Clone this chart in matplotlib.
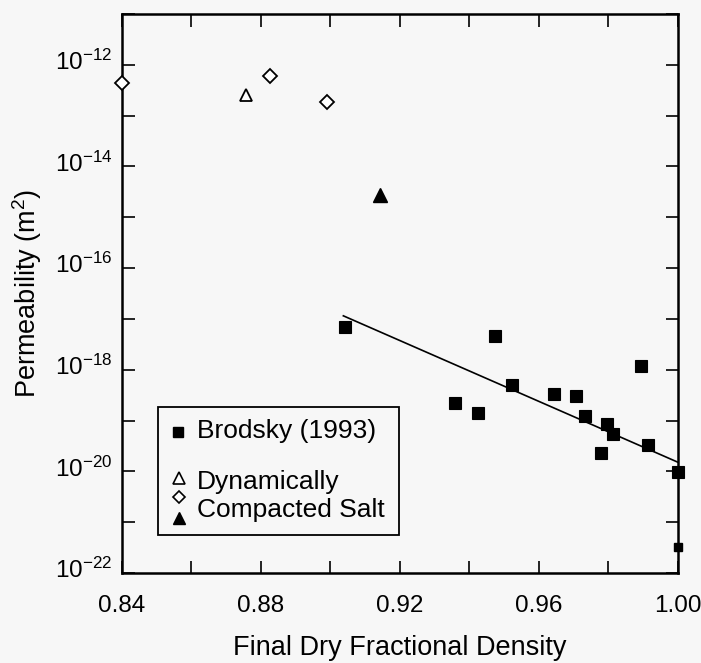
import matplotlib
matplotlib.use("Agg")
import matplotlib.pyplot as plt
from matplotlib.ticker import FixedLocator, FuncFormatter
from matplotlib.patches import Rectangle
import matplotlib.transforms as mtransforms
import numpy as np

plt.rcParams['font.family'] = ['Liberation Sans', 'DejaVu Sans']
plt.rcParams['mathtext.fontset'] = 'custom'
plt.rcParams['mathtext.rm'] = 'Liberation Sans'
plt.rcParams['mathtext.it'] = 'Liberation Sans'
plt.rcParams['mathtext.bf'] = 'Liberation Sans'

# --- data ---
brodsky_density = [0.9042, 0.9358, 0.9424, 0.9473, 0.9523, 0.9643, 0.9707,
                   0.9732, 0.9795, 0.9812, 0.9778, 0.9894, 0.9913, 1.0000]
brodsky_perm = [7.0e-18, 2.25e-19, 1.39e-19, 4.6e-18, 4.9e-19, 3.3e-19, 3.05e-19,
                1.25e-19, 8.5e-20, 5.4e-20, 2.3e-20, 1.17e-18, 3.3e-20, 9.6e-21]
brodsky_small_density = [1.0000]
brodsky_small_perm = [3.2e-22]

dyn_tri_open_density = [0.8756]
dyn_tri_open_perm = [2.5e-13]
dyn_diamond_density = [0.8400, 0.8826, 0.8990]
dyn_diamond_perm = [4.4e-13, 6.1e-13, 1.87e-13]
dyn_tri_filled_density = [0.9142]
dyn_tri_filled_perm = [2.7e-15]

fit_density = [0.9037, 1.0000]
fit_perm = [1.15e-17, 1.51e-20]

x_ticks = [0.84, 0.86, 0.88, 0.90, 0.92, 0.94, 0.96, 0.98, 1.00]
x_labeled = {0.84: "0.84", 0.88: "0.88", 0.92: "0.92", 0.96: "0.96", 1.00: "1.00"}
y_exponents = list(range(-22, -10))
y_labeled = [-22, -20, -18, -16, -14, -12]

legend_labels = ["Brodsky (1993)", "Dynamically", "Compacted Salt"]

bg = '#f7f7f7'
fig = plt.figure(figsize=(7.01, 6.63), dpi=100, facecolor=bg)
ax = fig.add_axes([122/701, 90/663, 556/701, 559/663], facecolor=bg)

ax.set_yscale('log')
ax.set_xlim(0.84, 1.00)
ax.set_ylim(1e-22, 1e-11)

ax.plot(fit_density, fit_perm, color='black', lw=1.2, zorder=2)
ax.plot(brodsky_density, brodsky_perm, ls='none', marker='s', ms=8.7,
        mfc='black', mec='black', mew=0.8, clip_on=False, zorder=3)
ax.plot(brodsky_small_density, brodsky_small_perm, ls='none', marker='s', ms=5.5,
        mfc='black', mec='black', clip_on=False, zorder=3)
ax.plot(dyn_tri_open_density, dyn_tri_open_perm, ls='none', marker='^', ms=9,
        mfc='white', mec='black', mew=1.3, clip_on=False, zorder=3)
ax.plot(dyn_diamond_density, dyn_diamond_perm, ls='none', marker='D', ms=7.5,
        mfc='white', mec='black', mew=1.3, clip_on=False, zorder=3)
ax.plot(dyn_tri_filled_density, dyn_tri_filled_perm, ls='none', marker='^', ms=9.5,
        mfc='black', mec='black', clip_on=False, zorder=3)

# ticks
ax.xaxis.set_major_locator(FixedLocator(x_ticks))
ax.xaxis.set_major_formatter(FuncFormatter(
    lambda v, p: next((s for k, s in x_labeled.items() if abs(k - v) < 1e-6), "")))
ax.yaxis.set_major_locator(FixedLocator([10.0 ** e for e in y_exponents]))
ax.yaxis.set_minor_locator(FixedLocator([]))
ax.yaxis.set_major_formatter(FuncFormatter(
    lambda v, p: (r"$10^{%d}$" % round(np.log10(v))) if round(np.log10(v)) in y_labeled else ""))

ax.tick_params(axis='both', which='major', direction='in', length=9, width=1.2,
               top=True, right=True, labelsize=17.5, color='black')
ax.tick_params(axis='x', pad=16)
ax.tick_params(axis='y', pad=7)
for s in ax.spines.values():
    s.set_linewidth(1.8)

# raise the y tick labels slightly, as in the reference
offset = mtransforms.ScaledTranslation(0, 5 / 100, fig.dpi_scale_trans)
for lbl in ax.get_yticklabels():
    lbl.set_transform(lbl.get_transform() + offset)

ax.set_xlabel("Final Dry Fractional Density", fontsize=19.5, labelpad=13)
ax.set_ylabel("Permeability (m$^2$)", fontsize=19.5, labelpad=8)

# legend (drawn as a boxed key)
ax.add_patch(Rectangle((0.0653, 0.068), 0.4334, 0.2284, transform=ax.transAxes,
                       facecolor=bg, edgecolor='black', lw=1.3, zorder=4))
ax.plot([0.100], [0.2528], transform=ax.transAxes, marker='s', ms=6.5, color='black',
        ls='none', zorder=5, clip_on=False)
ax.plot([0.1025], [0.1705], transform=ax.transAxes, marker='^', ms=8, mfc='white',
        mec='black', mew=1.2, ls='none', zorder=5, clip_on=False)
ax.plot([0.1025], [0.1365], transform=ax.transAxes, marker='D', ms=6.5, mfc='white',
        mec='black', mew=1.2, ls='none', zorder=5, clip_on=False)
ax.plot([0.1025], [0.0979], transform=ax.transAxes, marker='^', ms=8, color='black',
        ls='none', zorder=5, clip_on=False)
ax.text(0.1344, 0.2410, legend_labels[0], transform=ax.transAxes, fontsize=19,
        va='baseline', ha='left', zorder=6)
ax.text(0.1344, 0.1495, legend_labels[1], transform=ax.transAxes, fontsize=19,
        va='baseline', ha='left', zorder=6)
ax.text(0.1344, 0.1010, legend_labels[2], transform=ax.transAxes, fontsize=19,
        va='baseline', ha='left', zorder=6)

fig.savefig("out.png", dpi=100, facecolor=bg)
